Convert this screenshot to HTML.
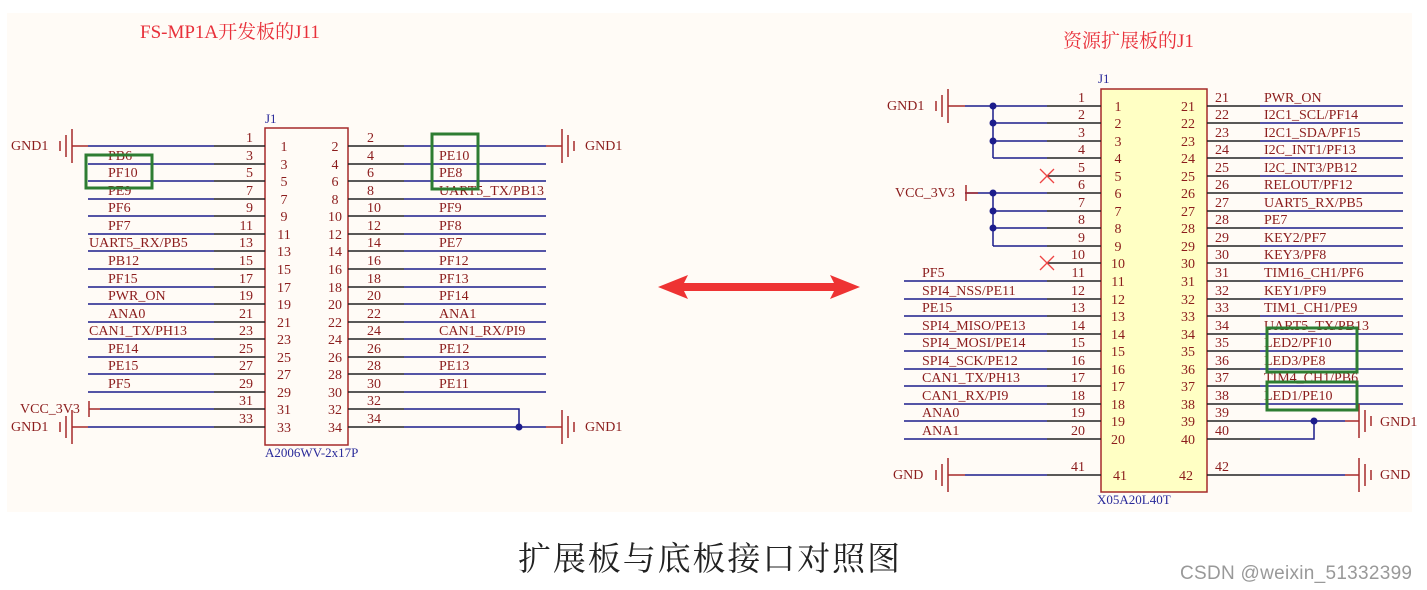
<!DOCTYPE html>
<html><head><meta charset="utf-8"><style>
html,body{margin:0;padding:0;background:#fff;}
svg{display:block}
text{font-family:"Liberation Serif","Noto Serif CJK SC",serif;}
.t{fill:#8b1c1c;font-size:14px}
.n{fill:#8b1c1c;font-size:14px}
.b{stroke:#1c1c8c;stroke-width:1.5;fill:none}
.k{stroke:#222;stroke-width:1.5;fill:none}
.r{stroke:#a52a2a;stroke-width:1.5;fill:none}
.g{stroke:#2e7d32;stroke-width:3;fill:none}
</style></head><body>
<svg width="1427" height="590" viewBox="0 0 1427 590" xmlns="http://www.w3.org/2000/svg">
<rect x="7" y="13" width="1405" height="499" fill="#fffbf6"/>
<text x="140" y="38" font-size="19" fill="#e8303a">FS-MP1A开发板的J11</text>
<text x="1063" y="47" font-size="19" fill="#e8303a">资源扩展板的J1</text>
<!-- arrow -->
<polygon points="658,287 688,275 684,283 834,283 830,275 860,287 830,299 834,291 684,291 688,299" fill="#ee3333"/>
<text x="518" y="570" font-size="33" fill="#222" textLength="382" style='font-family:"Noto Serif CJK SC",serif'>扩展板与底板接口对照图</text>
<text x="1180" y="579" font-size="19" fill="#999" textLength="232" style='font-family:"Liberation Sans",sans-serif'>CSDN @weixin_51332399</text>

<!-- LEFT CONNECTOR -->
<rect x="265" y="128" width="83" height="317" fill="none" stroke="#a52a2a" stroke-width="1.5"/>
<text x="265" y="123" font-size="13" fill="#2a2a9a">J1</text>
<text x="265" y="457" font-size="13" fill="#2a2a9a">A2006WV-2x17P</text>
<g class="b">
<path d="M88 146H214M88 164H214M88 181H214M88 199H214M88 216H214M88 234H214M88 251H214M88 269H214M88 287H214M88 304H214M88 322H214M88 339H214M88 357H214M88 374H214M88 392H214M100 409H214M88 427H214"/>
<path d="M404 146H546M404 164H546M404 181H546M404 199H546M404 216H546M404 234H546M404 251H546M404 269H546M404 287H546M404 304H546M404 322H546M404 339H546M404 357H546M404 374H546M404 392H546M404 409H519V427M404 427H546"/>
</g>
<g class="k">
<path d="M214 146H265M214 164H265M214 181H265M214 199H265M214 216H265M214 234H265M214 251H265M214 269H265M214 287H265M214 304H265M214 322H265M214 339H265M214 357H265M214 374H265M214 392H265M214 409H265M214 427H265"/>
<path d="M348 146H404M348 164H404M348 181H404M348 199H404M348 216H404M348 234H404M348 251H404M348 269H404M348 287H404M348 304H404M348 322H404M348 339H404M348 357H404M348 374H404M348 392H404M348 409H404M348 427H404"/>
</g>
<circle cx="519" cy="427" r="3.5" fill="#1c1c8c"/>
<g class="r">
<path d="M72 146H88M72 427H88M89 401V417M89 409H100M546 146H562M546 427H562"/>
<path d="M72 129V163M66 135V157M60 141V151"/>
<path d="M72 410V444M66 416V438M60 422V432"/>
<path d="M562 129V163M568 135V157M574 141V151"/>
<path d="M562 410V444M568 416V438M574 422V432"/>
</g>
<g class="t">
<text x="11" y="150">GND1</text><text x="11" y="431">GND1</text><text x="20" y="413">VCC_3V3</text>
<text x="585" y="150">GND1</text><text x="585" y="431">GND1</text>
<text x="108" y="160">PB6</text><text x="108" y="177">PF10</text><text x="108" y="195">PE9</text><text x="108" y="212">PF6</text><text x="108" y="230">PF7</text>
<text x="89" y="247">UART5_RX/PB5</text><text x="108" y="265">PB12</text><text x="108" y="283">PF15</text><text x="108" y="300">PWR_ON</text><text x="108" y="318">ANA0</text>
<text x="89" y="335">CAN1_TX/PH13</text><text x="108" y="353">PE14</text><text x="108" y="370">PE15</text><text x="108" y="388">PF5</text>
<text x="439" y="160">PE10</text><text x="439" y="177">PE8</text><text x="439" y="195">UART5_TX/PB13</text><text x="439" y="212">PF9</text><text x="439" y="230">PF8</text>
<text x="439" y="247">PE7</text><text x="439" y="265">PF12</text><text x="439" y="283">PF13</text><text x="439" y="300">PF14</text><text x="439" y="318">ANA1</text>
<text x="439" y="335">CAN1_RX/PI9</text><text x="439" y="353">PE12</text><text x="439" y="370">PE13</text><text x="439" y="388">PE11</text>
</g>
<g class="n" text-anchor="end">
<text x="253" y="142">1</text><text x="253" y="160">3</text><text x="253" y="177">5</text><text x="253" y="195">7</text><text x="253" y="212">9</text><text x="253" y="230">11</text><text x="253" y="247">13</text><text x="253" y="265">15</text><text x="253" y="283">17</text><text x="253" y="300">19</text><text x="253" y="318">21</text><text x="253" y="335">23</text><text x="253" y="353">25</text><text x="253" y="370">27</text><text x="253" y="388">29</text><text x="253" y="405">31</text><text x="253" y="423">33</text>
</g>
<g class="n">
<text x="367" y="142">2</text><text x="367" y="160">4</text><text x="367" y="177">6</text><text x="367" y="195">8</text><text x="367" y="212">10</text><text x="367" y="230">12</text><text x="367" y="247">14</text><text x="367" y="265">16</text><text x="367" y="283">18</text><text x="367" y="300">20</text><text x="367" y="318">22</text><text x="367" y="335">24</text><text x="367" y="353">26</text><text x="367" y="370">28</text><text x="367" y="388">30</text><text x="367" y="405">32</text><text x="367" y="423">34</text>
</g>
<g class="n" text-anchor="middle">
<text x="284" y="151">1</text><text x="284" y="169">3</text><text x="284" y="186">5</text><text x="284" y="204">7</text><text x="284" y="221">9</text><text x="284" y="239">11</text><text x="284" y="256">13</text><text x="284" y="274">15</text><text x="284" y="292">17</text><text x="284" y="309">19</text><text x="284" y="327">21</text><text x="284" y="344">23</text><text x="284" y="362">25</text><text x="284" y="379">27</text><text x="284" y="397">29</text><text x="284" y="414">31</text><text x="284" y="432">33</text>
<text x="335" y="151">2</text><text x="335" y="169">4</text><text x="335" y="186">6</text><text x="335" y="204">8</text><text x="335" y="221">10</text><text x="335" y="239">12</text><text x="335" y="256">14</text><text x="335" y="274">16</text><text x="335" y="292">18</text><text x="335" y="309">20</text><text x="335" y="327">22</text><text x="335" y="344">24</text><text x="335" y="362">26</text><text x="335" y="379">28</text><text x="335" y="397">30</text><text x="335" y="414">32</text><text x="335" y="432">34</text>
</g>
<rect x="86" y="155" width="66" height="33" class="g"/>
<rect x="432" y="134" width="46" height="55" class="g"/>

<!-- RIGHT CONNECTOR -->
<rect x="1101" y="89" width="106" height="403" fill="#ffffc4" stroke="#a52a2a" stroke-width="1.5"/>
<text x="1098" y="83" font-size="13" fill="#2a2a9a">J1</text>
<text x="1097" y="504" font-size="13" fill="#2a2a9a">X05A20L40T</text>
<g class="b">
<path d="M965 106H1047M993 123H1047M993 141H1047M993 158H1047M993 106V158M965 193H1047M993 211H1047M993 228H1047M993 246H1047M993 193V246"/>
<path d="M904 281H1047M904 299H1047M904 316H1047M904 334H1047M904 351H1047M904 369H1047M904 386H1047M904 404H1047M904 421H1047M904 439H1047M965 475H1047"/>
<path d="M1260 106H1403M1260 123H1403M1260 141H1403M1260 158H1403M1260 176H1403M1260 193H1403M1260 211H1403M1260 228H1403M1260 246H1403M1260 263H1403M1260 281H1403M1260 299H1403M1260 316H1403M1260 334H1403M1260 351H1403M1260 369H1403M1260 386H1403M1260 404H1403M1260 421H1345M1260 439H1314V421M1260 475H1345"/>
</g>
<g class="k">
<path d="M1047 106H1101M1047 123H1101M1047 141H1101M1047 158H1101M1047 176H1101M1047 193H1101M1047 211H1101M1047 228H1101M1047 246H1101M1047 263H1101M1047 281H1101M1047 299H1101M1047 316H1101M1047 334H1101M1047 351H1101M1047 369H1101M1047 386H1101M1047 404H1101M1047 421H1101M1047 439H1101M1047 475H1101"/>
<path d="M1207 106H1260M1207 123H1260M1207 141H1260M1207 158H1260M1207 176H1260M1207 193H1260M1207 211H1260M1207 228H1260M1207 246H1260M1207 263H1260M1207 281H1260M1207 299H1260M1207 316H1260M1207 334H1260M1207 351H1260M1207 369H1260M1207 386H1260M1207 404H1260M1207 421H1260M1207 439H1260M1207 475H1260"/>
</g>
<g fill="#1c1c8c"><circle cx="993" cy="106" r="3.5"/><circle cx="993" cy="123" r="3.5"/><circle cx="993" cy="141" r="3.5"/><circle cx="993" cy="193" r="3.5"/><circle cx="993" cy="211" r="3.5"/><circle cx="993" cy="228" r="3.5"/><circle cx="1314" cy="421" r="3.5"/></g>
<g stroke="#ee4444" stroke-width="1.3"><path d="M1040 169L1054 183M1054 169L1040 183M1040 256L1054 270M1054 256L1040 270"/></g>
<g class="r">
<path d="M948 106H965M966 185V201M966 193H978M948 475H965M1345 421H1359M1345 475H1359"/>
<path d="M948 89V123M942 95V117M936 101V111"/>
<path d="M948 458V492M942 464V486M936 470V480"/>
<path d="M1359 404V438M1365 410V432M1371 416V426"/>
<path d="M1359 458V492M1365 464V486M1371 470V480"/>
</g>
<g class="t">
<text x="887" y="110">GND1</text><text x="895" y="197">VCC_3V3</text><text x="893" y="479">GND</text>
<text x="1380" y="426">GND1</text><text x="1380" y="479">GND</text>
<text x="922" y="277">PF5</text><text x="922" y="295">SPI4_NSS/PE11</text><text x="922" y="312">PE15</text><text x="922" y="330">SPI4_MISO/PE13</text><text x="922" y="347">SPI4_MOSI/PE14</text><text x="922" y="365">SPI4_SCK/PE12</text><text x="922" y="382">CAN1_TX/PH13</text><text x="922" y="400">CAN1_RX/PI9</text><text x="922" y="417">ANA0</text><text x="922" y="435">ANA1</text>
<text x="1264" y="102">PWR_ON</text><text x="1264" y="119">I2C1_SCL/PF14</text><text x="1264" y="137">I2C1_SDA/PF15</text><text x="1264" y="154">I2C_INT1/PF13</text><text x="1264" y="172">I2C_INT3/PB12</text><text x="1264" y="189">RELOUT/PF12</text><text x="1264" y="207">UART5_RX/PB5</text><text x="1264" y="224">PE7</text><text x="1264" y="242">KEY2/PF7</text><text x="1264" y="259">KEY3/PF8</text><text x="1264" y="277">TIM16_CH1/PF6</text><text x="1264" y="295">KEY1/PF9</text><text x="1264" y="312">TIM1_CH1/PE9</text><text x="1264" y="330">UART5_TX/PB13</text><text x="1264" y="347">LED2/PF10</text><text x="1264" y="365">LED3/PE8</text><text x="1264" y="382">TIM4_CH1/PB6</text><text x="1264" y="400">LED1/PE10</text>
</g>
<g class="n" text-anchor="end">
<text x="1085" y="102">1</text><text x="1085" y="119">2</text><text x="1085" y="137">3</text><text x="1085" y="154">4</text><text x="1085" y="172">5</text><text x="1085" y="189">6</text><text x="1085" y="207">7</text><text x="1085" y="224">8</text><text x="1085" y="242">9</text><text x="1085" y="259">10</text><text x="1085" y="277">11</text><text x="1085" y="295">12</text><text x="1085" y="312">13</text><text x="1085" y="330">14</text><text x="1085" y="347">15</text><text x="1085" y="365">16</text><text x="1085" y="382">17</text><text x="1085" y="400">18</text><text x="1085" y="417">19</text><text x="1085" y="435">20</text><text x="1085" y="471">41</text>
</g>
<g class="n">
<text x="1215" y="102">21</text><text x="1215" y="119">22</text><text x="1215" y="137">23</text><text x="1215" y="154">24</text><text x="1215" y="172">25</text><text x="1215" y="189">26</text><text x="1215" y="207">27</text><text x="1215" y="224">28</text><text x="1215" y="242">29</text><text x="1215" y="259">30</text><text x="1215" y="277">31</text><text x="1215" y="295">32</text><text x="1215" y="312">33</text><text x="1215" y="330">34</text><text x="1215" y="347">35</text><text x="1215" y="365">36</text><text x="1215" y="382">37</text><text x="1215" y="400">38</text><text x="1215" y="417">39</text><text x="1215" y="435">40</text><text x="1215" y="471">42</text>
</g>
<g class="n" text-anchor="middle">
<text x="1118" y="111">1</text><text x="1118" y="128">2</text><text x="1118" y="146">3</text><text x="1118" y="163">4</text><text x="1118" y="181">5</text><text x="1118" y="198">6</text><text x="1118" y="216">7</text><text x="1118" y="233">8</text><text x="1118" y="251">9</text><text x="1118" y="268">10</text><text x="1118" y="286">11</text><text x="1118" y="304">12</text><text x="1118" y="321">13</text><text x="1118" y="339">14</text><text x="1118" y="356">15</text><text x="1118" y="374">16</text><text x="1118" y="391">17</text><text x="1118" y="409">18</text><text x="1118" y="426">19</text><text x="1118" y="444">20</text><text x="1120" y="480">41</text>
<text x="1188" y="111">21</text><text x="1188" y="128">22</text><text x="1188" y="146">23</text><text x="1188" y="163">24</text><text x="1188" y="181">25</text><text x="1188" y="198">26</text><text x="1188" y="216">27</text><text x="1188" y="233">28</text><text x="1188" y="251">29</text><text x="1188" y="268">30</text><text x="1188" y="286">31</text><text x="1188" y="304">32</text><text x="1188" y="321">33</text><text x="1188" y="339">34</text><text x="1188" y="356">35</text><text x="1188" y="374">36</text><text x="1188" y="391">37</text><text x="1188" y="409">38</text><text x="1188" y="426">39</text><text x="1188" y="444">40</text><text x="1186" y="480">42</text>
</g>
<rect x="1267" y="328" width="90" height="44" class="g"/>
<rect x="1267" y="382" width="90" height="28" class="g"/>
</svg>
</body></html>
